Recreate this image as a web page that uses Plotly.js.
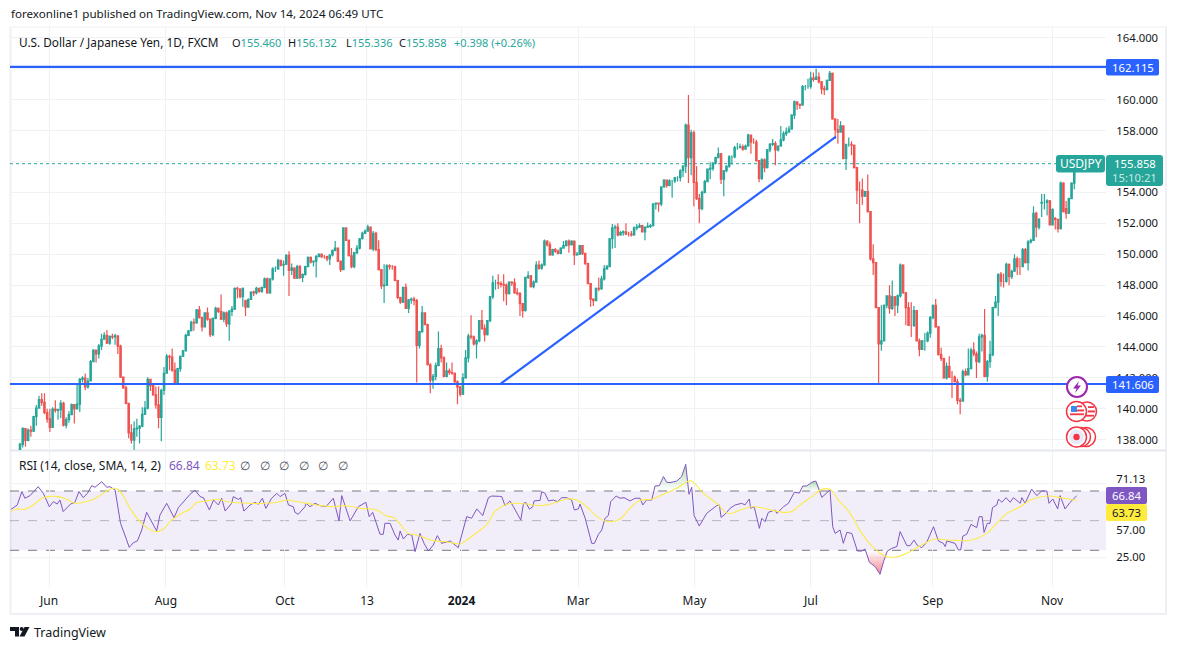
<!DOCTYPE html>
<html><head><meta charset="utf-8">
<script src="https://cdn.plot.ly/plotly-3.0.1.min.js"></script>
<style>html,body{margin:0;padding:0;background:#fff;overflow:hidden}#c{width:1177px;height:650px}</style>
</head><body><div id="c"></div>
<script>
const firstOpen = 137.35;
const closes = [
137.70,138.72,137.95,138.62,138.55,139.50,140.05,140.60,140.42,139.75,
139.35,138.80,139.98,139.90,139.95,140.35,138.95,139.30,139.62,140.28,
140.00,140.30,141.90,141.98,141.42,141.80,143.05,143.80,143.55,144.05,
144.50,144.75,144.25,144.68,144.65,144.72,144.05,142.05,141.35,140.35,
138.45,137.98,138.70,138.75,138.88,139.65,140.05,141.90,141.50,140.90,
140.25,139.45,141.20,142.30,143.40,143.35,142.50,141.65,142.60,143.40,
143.75,144.75,145.05,145.60,145.55,146.40,145.90,145.30,146.20,145.80,
144.80,145.85,146.50,146.30,145.80,146.20,145.50,146.30,146.45,147.80,
147.75,147.25,147.80,146.57,147.07,147.55,147.50,147.80,147.60,147.85,
148.40,147.50,148.40,149.05,149.05,149.60,149.30,149.35,149.92,148.95,
149.10,148.45,149.20,148.50,148.70,149.20,149.80,149.50,149.55,149.85,
150.00,149.85,149.85,149.70,149.95,150.25,150.40,149.55,149.00,151.70,
150.90,149.90,149.20,150.10,150.40,151.00,151.35,151.50,151.75,150.35,
151.35,150.30,149.00,147.95,148.00,149.25,149.20,149.20,148.30,147.20,
146.90,147.85,146.50,147.05,147.10,147.00,144.10,145.00,146.20,145.45,
142.85,141.85,142.10,142.80,143.90,143.30,142.10,142.45,142.35,142.30,
141.75,141.40,140.95,142.00,143.30,144.70,144.65,144.20,144.40,145.70,
145.20,144.80,145.70,147.25,148.15,148.15,148.10,148.05,148.00,147.45,
148.20,148.15,147.50,147.45,146.80,146.35,148.50,148.60,147.90,148.20,
149.30,149.10,149.30,150.85,150.60,149.95,150.30,150.20,150.05,150.40,
150.55,150.85,150.60,150.85,149.95,150.00,150.55,150.05,149.40,148.10,
147.10,147.00,147.80,147.75,148.40,149.05,149.20,151.00,151.70,151.75,
151.25,151.40,151.45,151.30,151.30,151.25,151.70,151.75,151.85,151.45,
151.75,151.80,151.85,153.25,153.30,153.25,154.35,154.80,154.45,154.75,
154.75,154.95,154.95,155.40,155.70,158.35,156.25,157.85,154.65,153.60,
152.95,154.00,154.70,155.50,155.55,155.90,156.25,156.50,154.85,155.40,
155.70,156.30,156.30,156.90,156.90,156.95,156.80,157.00,157.70,157.25,
157.25,156.05,154.90,156.10,155.60,156.75,157.10,157.15,156.75,157.00,
157.40,157.80,157.90,158.10,159.00,159.85,159.70,159.65,160.85,160.85,
160.85,161.40,161.30,161.45,161.15,160.70,160.65,161.25,161.70,158.75,
158.05,157.90,158.30,156.20,157.10,157.10,157.05,155.60,154.15,154.15,
153.75,154.05,152.75,149.70,149.45,146.55,144.20,144.40,146.70,147.30,
146.50,147.25,146.70,147.30,149.30,147.50,146.55,145.40,145.40,146.35,
144.40,143.85,144.40,144.40,144.90,145.90,146.70,145.30,143.50,143.25,
142.00,142.75,142.05,142.05,141.75,140.55,140.50,142.40,142.20,142.60,
143.80,143.55,143.05,144.65,144.75,142.10,143.05,143.50,146.55,146.90,
148.70,148.25,148.25,149.35,148.55,148.90,149.70,149.20,149.20,150.30,
149.45,150.80,150.90,152.65,151.75,152.25,153.35,153.35,153.45,151.90,
152.90,152.25,151.65,154.60,152.75,152.65,153.60,154.60,155.46,155.858];
const highs = [
137.80,138.80,138.75,138.72,138.90,139.55,140.25,140.85,141.00,141.00,
140.00,140.00,140.10,140.55,140.00,140.55,140.45,139.45,139.85,140.35,
140.30,141.55,142.00,142.10,142.28,142.00,143.15,143.85,143.75,144.20,
144.85,144.95,145.10,144.75,144.85,144.85,144.72,144.15,142.05,141.50,
140.35,139.00,139.20,139.35,138.95,140.10,140.50,142.05,141.90,141.55,
141.45,141.45,141.30,142.70,143.55,143.50,143.90,143.00,142.65,143.45,
143.80,144.85,145.10,145.70,145.85,146.45,146.65,145.95,146.25,146.55,
145.85,145.90,146.60,146.55,147.40,146.30,146.30,146.40,146.65,147.85,
147.90,147.80,147.85,147.05,147.15,147.60,147.65,147.90,147.85,147.90,
148.50,148.50,148.45,149.15,149.20,149.70,149.65,149.60,150.00,150.20,
149.40,149.15,149.30,149.30,148.75,149.25,149.85,149.85,149.60,149.95,
150.05,150.05,149.95,149.90,150.00,150.30,150.85,150.40,149.60,151.75,
151.72,150.95,150.40,150.15,150.60,151.05,151.45,151.60,151.90,151.80,
151.50,151.45,150.90,149.05,149.35,149.35,149.35,149.30,149.25,148.35,
147.25,147.90,148.10,147.10,147.20,147.25,147.10,145.05,146.65,146.25,
145.50,142.95,142.25,143.00,145.00,144.15,143.40,143.00,142.60,143.00,
142.35,141.85,141.50,142.30,143.80,144.85,146.05,144.75,144.50,145.75,
146.40,145.45,145.75,147.30,148.60,148.35,148.70,148.25,148.70,148.10,
148.25,148.25,148.45,147.80,147.55,146.85,148.55,148.90,148.65,148.30,
149.55,149.60,149.40,150.95,150.90,150.80,150.35,150.40,150.30,150.45,
150.85,150.90,150.95,150.90,150.85,150.15,150.60,150.60,150.10,149.45,
148.10,147.15,147.85,148.50,148.60,149.30,149.30,151.05,151.95,151.90,
152.00,151.50,151.55,152.00,151.45,151.50,151.80,151.95,152.00,151.90,
151.80,152.05,151.95,153.30,153.35,153.35,154.40,154.85,154.80,154.85,
154.80,155.00,155.05,155.50,155.75,158.45,160.30,158.05,158.00,155.70,
153.90,154.10,154.80,155.55,155.95,155.95,156.30,156.90,156.55,155.45,
155.75,156.40,156.40,157.00,157.20,157.15,157.10,157.10,157.80,157.75,
157.50,157.40,156.10,156.20,156.20,156.80,157.20,157.45,157.30,157.05,
158.30,157.95,158.20,158.30,159.05,159.95,159.90,159.75,160.95,160.95,
161.35,161.80,161.75,162.00,161.75,161.20,160.90,161.30,161.85,161.75,
158.80,158.75,158.60,158.30,157.15,157.55,157.30,157.10,155.65,154.70,
154.90,154.10,155.15,152.80,150.65,149.45,146.55,146.70,146.75,147.35,
148.00,148.30,147.30,147.40,149.40,149.35,147.55,146.90,146.90,146.65,
146.40,144.55,144.45,144.90,145.00,146.00,146.75,147.10,145.35,143.95,
143.30,143.00,143.40,142.45,142.15,141.95,140.70,142.55,142.60,143.90,
143.95,144.30,143.70,144.85,144.85,146.45,143.15,144.40,146.60,147.30,
148.75,148.85,148.75,149.45,149.40,149.00,150.00,149.85,149.75,150.40,
150.40,150.90,151.00,153.10,152.75,152.35,153.90,153.90,153.55,153.50,
152.95,152.40,152.30,154.70,154.65,153.45,153.65,154.65,155.50,156.132];
const lows = [
137.30,137.50,137.55,137.90,138.20,138.50,138.90,140.05,140.20,139.65,
139.10,138.50,138.80,139.75,139.30,139.40,138.85,138.75,139.10,139.60,
139.05,139.95,139.80,141.70,141.20,141.30,141.80,143.05,143.00,143.25,
143.80,144.50,144.20,144.15,144.50,144.15,143.55,142.00,141.30,140.30,
138.10,137.75,137.30,138.20,137.75,138.80,139.60,139.95,141.15,140.85,
140.00,138.75,137.90,140.90,142.30,142.50,142.40,141.60,141.60,142.40,
143.35,143.70,144.70,145.00,145.05,145.50,145.85,145.00,145.30,145.70,
144.65,144.70,145.80,146.20,145.75,145.60,145.30,144.40,146.00,146.40,
147.15,147.15,146.60,146.00,146.55,147.05,147.30,147.40,147.50,147.50,
147.80,147.45,147.45,148.30,148.85,149.00,149.20,148.60,149.30,147.30,
148.65,148.40,148.40,148.40,148.20,148.60,149.15,149.40,149.20,148.50,
149.80,149.75,149.70,149.55,149.30,149.85,150.20,149.50,148.85,149.00,
150.85,149.85,149.10,149.10,150.00,150.30,150.95,151.30,151.45,150.30,
150.20,150.20,148.95,147.75,146.85,147.95,149.00,149.00,148.25,147.10,
146.80,146.85,146.45,146.20,146.80,146.70,141.70,143.90,144.90,145.40,
142.80,141.00,141.30,141.85,142.75,143.00,142.05,142.05,142.20,142.20,
141.55,140.30,140.80,140.90,141.95,143.00,144.50,144.10,143.25,144.30,
145.10,144.35,144.75,145.60,147.10,147.70,147.75,147.85,146.95,146.70,
147.40,147.95,147.45,147.35,146.00,145.90,146.30,148.40,147.85,147.80,
148.15,149.00,149.00,149.25,150.50,149.90,149.90,150.10,150.00,150.00,
150.40,150.50,150.10,150.60,149.30,149.90,149.95,149.95,149.30,148.05,
146.60,146.65,146.95,147.60,147.70,148.30,149.00,149.15,150.35,150.40,
151.15,151.20,151.20,151.25,151.15,151.15,151.20,151.55,151.70,151.40,
150.90,151.70,151.70,151.80,152.90,152.75,153.10,154.30,154.30,154.40,
153.65,154.60,154.70,154.70,155.00,155.25,154.60,155.10,153.10,153.50,
152.00,152.85,153.95,154.70,154.85,155.40,155.80,156.25,154.55,153.75,
155.30,155.60,155.80,156.20,156.75,156.85,156.70,156.75,156.95,156.50,
157.15,156.00,154.65,154.80,155.30,155.55,156.60,157.00,155.75,156.65,
156.95,157.30,157.65,157.85,158.05,158.75,159.35,159.40,159.60,160.60,
160.70,160.70,161.15,161.30,161.05,160.35,160.30,160.65,161.20,158.70,
157.45,157.15,157.85,156.15,155.45,156.95,156.40,155.55,153.25,152.00,
153.20,153.70,152.70,149.60,148.65,146.50,141.65,143.75,144.35,146.50,
146.15,146.40,146.00,146.20,147.20,147.45,145.40,145.35,144.65,145.30,
144.35,143.40,143.80,143.75,144.30,144.60,145.80,145.25,143.45,143.10,
141.95,141.90,142.00,140.70,141.70,140.30,139.65,140.45,142.10,142.15,
142.60,143.40,142.00,142.95,143.70,142.05,141.75,142.65,143.40,146.50,
146.00,147.90,147.85,148.15,148.00,148.40,148.85,148.65,148.65,149.15,
149.40,148.95,150.70,150.85,151.10,151.60,152.40,152.90,152.50,151.85,
151.85,151.60,151.40,151.60,152.70,152.30,152.60,153.55,154.20,155.336];
const gapIndex = [83, 376, 381, 385];
const gapOpen = [147.00, 153.30, 152.30, 152.95];

const dateTickPos = [10.7,53.7,97.5,127.7,162.5,205.4,248.2,291.1,336.0,379.8];
const dateTickText = ["Jun","Aug","Oct","13","<b>2024</b>","Mar","May","Jul","Sep","Nov"];
const priceTicks = [138,140,142,144,146,148,150,152,154,158,160,164];
const hiddenPriceGrid = [156,162];
const rsiTickPos = [78,43.6,25.5];
const rsiTickText = ["71.13","57.00","25.00"];

const rsiX = [-3.3,-1,0.7,1.8,3.7,6.7,8.6,10.8,12.3,13.7,14.7,15.9,18.6,20.2,21.7,23.3,24.8,26.4,27.6,30.1,31.9,33.1,35,35.8,37,38.6,40.2,41.7,43.2,44.8,46.6,50.3,51.5,54,56.7,58.3,60.1,62.6,64.4,66.3,67.5,69.7,71.2,73,74.2,75.5,77.9,78.5,80.4,81.2,82.4,84.7,86.5,87.7,89.2,90.5,92.6,94.5,95.7,97.5,98.8,100.6,101.2,102.4,104.9,105.3,106.7,108.6,110.4,112.6,115.3,117.4,118.4,121.5,124.5,127.3,128.5,129.8,132.5,133.7,134.3,136.2,138,139.2,
139.9,141.1,142.6,144.2,145.4,147.2,148.7,150.3,152.1,153.6,155.2,158.3,160.1,161.3,164.4,166.2,168.1,170.3,172.4,173.6,176.4,177.3,178.5,180.3,181.6,184.3,185.3,186.2,187.5,188.7,189.2,191.4,192,193.2,194.5,196.3,197.8,199.4,201.2,203,204,205.5,206.1,208,210.4,211.4,212.9,214.1,215.3,216.5,217.4,219.4,220.8,222.3,224.5,226.4,228.2,229.2,230.6,232.5,233.7,235.3,236.8,238,239.2,241.7,243.5,245,246.2,247.2,248.1,250,252.7,254.2,256.4,257.4,258,259.5,261.3,263.2,265.6,266.8,268.4,268.9,270.2,272.1,273,274.2,275.4,277.9,278.5,281,282.8,285,286.8,
288.1,289.5,291.4,292.9,295.1,298.1,299.1,300,301.8,303,304.3,306.1,308.2,309.8,311,312.6,314.7,316.5,317.8,319.2,320.8,322.7,323.9,326.4,327.6,329,330.3,331.9,333.7,336.2,338,339.8,340.5,341.1,344.1,345.4,346.2,347,348.4,350,352.1,353,354.1,354.8,356,357,357.9,359.5,360.1,361.3,362.9,364.4,365.6,368.1,368.7,369.9,372.3,374.2,376,377.9,378.7,380.1,381.9,382.8,384.6,386.5,388.9];
const rsiV = [57.6,60.6,69.6,65.1,66.9,72.9,68.4,59.4,62.8,61.2,63.9,56.1,61.2,62.4,69.6,65.5,68.4,73.6,72.5,76.3,72.5,72.9,70.7,60.6,48.2,40.3,32,35.1,36.3,43.7,55.6,43,53.8,61.7,52,58.8,62.8,67.8,70.5,66.2,65.5,57.2,63.9,60.6,65.1,56.5,61.7,66.2,64.3,65.5,56.5,60.6,62.4,61,65.1,58.3,65.1,68.4,66.2,68.4,60.6,59.4,55.6,54.3,59.4,61.7,59.4,61.7,60.1,59.4,65.1,49.8,66.9,49.8,59.4,62.4,52.7,55.6,40.8,40.8,48.2,48.2,40.3,36.9,
43,37.6,40.8,40.3,29.1,41.4,34.7,29.5,33.6,39.9,34.7,36.3,33.6,31.8,52.7,51.6,57.9,53.4,65.5,66.6,66.4,66.2,60.1,63.3,59.4,50.4,61.7,62.2,57.7,59.4,63.3,63.7,69.6,68.4,63.3,63.9,62.8,65.5,65.5,63.9,57.2,57.9,61.2,51.6,34.7,34.7,40.8,43.7,51.6,53.4,62.8,66.6,65.1,65.5,63.3,65.1,65.1,60.6,63.9,63.9,73.4,73.6,79.7,75.9,75.7,76.7,79.7,88,67.8,72.5,53.4,46.4,54.9,56.9,60.1,60.6,52.2,54.3,58.3,60.6,61.7,60.6,64.6,58.3,59.4,44.8,51.6,49.3,55.6,57.2,54.9,59.4,61.7,69.2,68.6,
73.4,73.4,75.9,76.7,65.7,70.7,45.9,41.4,43.7,34.7,42.1,41.4,29.5,29.5,30.9,21.9,19,13.8,22.3,29.5,31.3,32.5,42.6,33.1,33.1,36.9,33.1,31.8,35.4,45.9,36.3,34.7,32.5,36.3,34.7,30.2,30.2,39.6,40.8,47.5,45.3,52.7,52.7,42.1,48.2,48.2,58.8,60.6,64.6,62.4,65.5,62.4,65.5,61.7,65.5,61.7,71.3,66.9,70,70,61.7,64.6,57.9,66.9,57.9,62.4,66.84];
const maX = [-3.3,-1.2,1.8,4.9,8,11,14.1,17.2,20.2,23.3,26.4,29.4,31.9,35,37.4,40.5,44.2,47.2,50.3,52.8,55.8,58.9,62.6,65,68.7,72.4,76.1,79.7,84.7,90.8,95.7,98.1,103.1,109.2,115.3,120.2,125.1,131.3,134.9,137.4,139.9,142.9,146,152.1,157,161.9,164.4,168.1,171.7,174.8,177.8,181.6,186.5,191.4,196.3,201.2,204.9,208.6,212.3,216.5,220.8,224.5,228.2,232.5,236.8,241.7,245.4,247.2,251.5,256.4,260.7,265,269.9,274.8,281,284,287.1,291.4,295.1,298.1,301.2,305.5,309.8,314.1,319,322.7,327.6,332.5,336.2,343.5,350.3,355.8,359.5,363.2,368.1,371.8,377.9,384.1,388.9];
const maV = [56.1,57.9,57.6,60.6,65.1,66.4,66.2,64.4,61.7,62.4,63.9,66.9,70,71.8,68.4,58.3,49.3,44.8,42.6,44.4,50.4,54.3,57.9,62.1,63.3,64.4,62.8,62.1,61.7,61.7,62.8,63.9,62.4,60.6,59.4,60.1,58.3,57.2,53.1,52.2,47.7,41.4,40.3,36.5,35.8,34.3,36.9,41.9,47.1,56.1,60.1,61.7,61.2,60.1,61.7,64.6,63.9,59.4,52.7,49.3,51.1,58.3,63.7,64.4,67.8,71.8,76.3,76.7,68.4,61.7,54.7,57.2,59.4,57.9,55.6,56.1,60.6,66.2,71.1,71.1,63.9,54.9,41.4,31.8,25.7,25.7,29.1,34.2,37.4,36.7,36.9,41.4,48.2,54.9,59.4,63.9,66.6,65.1,63.73];

const supportLevel = 141.606, resistLevel = 162.115, lastPrice = 155.858;
const trendX = [176.7,300.3], trendY = [141.6,157.6];
if (closes.length!==390||highs.length!==390||lows.length!==390) console.error('lengths',closes.length,highs.length,lows.length);
if (rsiX.length!==rsiV.length||maX.length!==maV.length) console.error('rsi lengths',rsiX.length,rsiV.length,maX.length,maV.length);

const W=1177,H=650,UP='#26a69a',DOWN='#ef5350',BLUE='#2962ff',GRID='#f0f1f4',FRAME='#eff0f5',INK='#131722',PURPLE='#7e57c2';
const opens = closes.map((c,i)=>{const g=gapIndex.indexOf(i); return g>=0?gapOpen[g]:(i?closes[i-1]:firstOpen);});
const idx = closes.map((_,i)=>i);
const px=x=>x/W, py=y=>1-y/H;
const spacing=(1077-20)/389;
const xRange=[(10-20)/spacing,(1106-20)/spacing];

const font='"Noto Sans", sans-serif';
const ann=[];
function T(x,y,text,opt={}){ann.push(Object.assign({xref:'paper',yref:'paper',x:px(x),y:py(y),text,showarrow:false,xanchor:'left',yanchor:'middle',font:{family:font,size:12,color:INK},borderpad:0},opt));}
const sh=[];
function L(x0,y0,x1,y1,c,w){sh.push({type:'line',xref:'paper',yref:'paper',x0:px(x0),x1:px(x1),y0:py(y0),y1:py(y1),line:{color:c,width:w||1},layer:'below'});}
function rr(x0,y0,x1,y1,r,c){const X=px,Y=py;sh.push({type:'path',xref:'paper',yref:'paper',fillcolor:c,line:{width:0},layer:'above',
 path:`M${X(x0+r)},${Y(y0)}L${X(x1-r)},${Y(y0)}Q${X(x1)},${Y(y0)} ${X(x1)},${Y(y0+r)}L${X(x1)},${Y(y1-r)}Q${X(x1)},${Y(y1)} ${X(x1-r)},${Y(y1)}L${X(x0+r)},${Y(y1)}Q${X(x0)},${Y(y1)} ${X(x0)},${Y(y1-r)}L${X(x0)},${Y(y0+r)}Q${X(x0)},${Y(y0)} ${X(x0+r)},${Y(y0)}Z`});}
function circ(cx,cy,r,stroke,fill,w){sh.push({type:'circle',xref:'paper',yref:'paper',x0:px(cx-r),x1:px(cx+r),y0:py(cy+r),y1:py(cy-r),fillcolor:fill,line:{color:stroke,width:w==null?1.5:w},layer:'above'});}
function poly(pts,fill){sh.push({type:'path',xref:'paper',yref:'paper',fillcolor:fill,line:{width:0},layer:'above',path:'M'+pts.map(p=>px(p[0])+','+py(p[1])).join('L')+'Z'});}
const box=(x0,y0,x1,y1,c)=>poly([[x0,y0],[x1,y0],[x1,y1],[x0,y1]],c);

// frame
L(10.5,27,10.5,614,FRAME,2);L(10,27,1167,27,FRAME,1);L(1166,27,1166,614,FRAME,2);L(10,614,1167,614,FRAME,2);L(10,450.5,1167,450.5,'#e6e8f0',2);

// grid under the hidden price labels
hiddenPriceGrid.forEach(v=>sh.push({type:'line',xref:'paper',yref:'y',x0:px(10),x1:px(1106),y0:v,y1:v,line:{color:GRID,width:1},layer:'below'}));

// levels
[resistLevel,supportLevel].forEach(v=>sh.push({type:'line',xref:'paper',yref:'y',x0:px(10),x1:px(1106),y0:v,y1:v,line:{color:BLUE,width:2.2},layer:'above'}));
sh.push({type:'line',xref:'paper',yref:'y',x0:px(10),x1:px(1060),y0:lastPrice,y1:lastPrice,line:{color:UP,width:1,dash:'dot'},layer:'below'});
sh.push({type:'line',xref:'x',yref:'y',x0:trendX[0],x1:trendX[1],y0:trendY[0],y1:trendY[1],line:{color:BLUE,width:2.2},layer:'above'});

// RSI band
sh.push({type:'rect',xref:'paper',yref:'y2',x0:px(10),x1:px(1106),y0:30,y1:70,fillcolor:'rgba(126,87,194,0.1)',line:{width:0},layer:'below'});
[[70,1],[50,0.5],[30,1]].forEach(a=>sh.push({type:'line',xref:'paper',yref:'y2',x0:px(10),x1:px(1106),y0:a[0],y1:a[0],opacity:a[1],line:{color:'#787b86',width:1,dash:'dash'},layer:'below'}));
[75,25].forEach(v=>sh.push({type:'line',xref:'paper',yref:'y2',x0:px(10),x1:px(1106),y0:v,y1:v,line:{color:GRID,width:1},layer:'below'}));

// label boxes
const num=(c)=>({xanchor:'center',font:{family:font,size:11.3,color:c}});
rr(1106,59,1159,75.5,2,BLUE);T(1132.5,67.5,'162.115',num('#fff'));
rr(1106,376,1159,393,2,BLUE);T(1132.5,384.5,'141.606',num('#fff'));
rr(1056,155,1105,172.5,3,UP);T(1080.5,163.5,'USDJPY',{xanchor:'center',font:{family:font,size:12,color:'#fff'}});
rr(1106,155,1163,186,3,UP);T(1134.5,163.5,'155.858',num('#fff'));
T(1134.5,177.5,'15:10:21',num('rgba(255,255,255,0.75)'));
rr(1106,487,1147,504,2,PURPLE);T(1126.5,495.5,'66.84',num('#fff'));
rr(1106,504,1147,521,2,'#ffeb3b');T(1126.5,512.5,'63.73',num(INK));

// header
T(10,14,'forexonline1 published on TradingView.com, Nov 14, 2024 06:49 UTC',{font:{family:font,size:11.6,color:INK}});
T(17.5,42,'U.S. Dollar / Japanese Yen, 1D, FXCM',{font:{family:font,size:11.8,color:INK}});
const ohlcLabel=['O','H','L','C'], ohlcValue=['155.460','156.132','155.336','155.858'], ohlcPos=[231,287,345,398];
ohlcLabel.forEach((l,i)=>T(ohlcPos[i],42,`${l}<span style="color:${UP}">${ohlcValue[i]}</span>`,{font:{family:font,size:11,color:INK}}));
T(453,42,'+0.398 (+0.26%)',{font:{family:font,size:11,color:UP}});
T(18,465,'RSI (14, close, SMA, 14, 2)');
T(168,465,'66.84',{font:{family:font,size:12,color:PURPLE}});
T(204,465,'63.73',{font:{family:font,size:12,color:'#ffeb3b'}});
[245,265,284,304,323,343].forEach(x=>T(x,465,'∅',{xanchor:'center',font:{family:font,size:12,color:'#4a4e5a'}}));

// icons
circ(1077,387,10,'#9c27b0','#ffffff',2);
poly([[1079,381],[1073,388.5],[1076.5,388.5],[1075,393],[1081,385.5],[1077.5,385.5]],'#9c27b0');
circ(1087,411.5,9.5,'#f23645','#ffffff',1.5);
box(1088,406.2,1094,408,'#f23645');box(1088,410.5,1095,412.4,'#f23645');box(1086,414.8,1094,416.6,'#f23645');
circ(1076.5,411.5,10,'#f23645','#ffffff',1.5);
box(1077,405.4,1082,407.2,'#f23645');box(1077,409.5,1084,411.4,'#f23645');box(1070,413.4,1084,415.2,'#f23645');
box(1071,406,1077,412,'#3d8bf0');
circ(1086,437,9.5,'#f23645','#ffffff',1.5);circ(1081,437,9.5,'#f23645','#ffffff',1.5);
circ(1076.5,437,10,'#f23645','#ffffff',1.5);circ(1076.5,437,7.5,'#e8eaf6','#e8eaf6',0);circ(1076.5,437,3.2,'#f23645','#f23645',0);

// logo
poly([[10,627],[19,627],[19,636.5],[15,636.5],[15,631],[10,631]],INK);
circ(21.7,629,2,INK,INK,0);
poly([[24.5,627],[29.5,627],[24.5,636.5],[19.5,636.5]],INK);
T(33,632,'TradingView',{font:{family:font,size:12.5,color:INK}});

// RSI fills
function region(a,b,level,over){const xs=[],ys=[];rsiX.forEach((x,i)=>{if(x>=a&&x<=b){xs.push(x);ys.push(over?Math.max(rsiV[i],level):Math.min(rsiV[i],level));}});
 return {x:[xs[0],...xs,xs[xs.length-1]],y:[level,...ys,level]};}
const hi1=region(232.5,247.2,70,true),hi2=region(288,298.1,70,true),lo1=region(308,320,30,false);
const greenGrad={type:'vertical',colorscale:[[0,'rgba(76,175,80,0)'],[1,'rgba(76,175,80,0.45)']]};
const redGrad={type:'vertical',colorscale:[[0,'rgba(242,54,69,0.6)'],[1,'rgba(242,54,69,0)']]};

const data=[
 {type:'candlestick',x:idx,open:opens,high:highs,low:lows,close:closes,xaxis:'x',yaxis:'y',whiskerwidth:0,
  increasing:{line:{color:UP,width:1.2},fillcolor:UP},decreasing:{line:{color:DOWN,width:1.2},fillcolor:DOWN},hoverinfo:'skip',showlegend:false},
 {type:'scatter',mode:'lines',x:hi1.x,y:hi1.y,xaxis:'x2',yaxis:'y2',fill:'toself',fillgradient:greenGrad,line:{width:0},hoverinfo:'skip',showlegend:false},
 {type:'scatter',mode:'lines',x:hi2.x,y:hi2.y,xaxis:'x2',yaxis:'y2',fill:'toself',fillgradient:greenGrad,line:{width:0},hoverinfo:'skip',showlegend:false},
 {type:'scatter',mode:'lines',x:lo1.x,y:lo1.y,xaxis:'x2',yaxis:'y2',fill:'toself',fillgradient:redGrad,line:{width:0},hoverinfo:'skip',showlegend:false},
 {type:'scatter',mode:'lines',x:rsiX,y:rsiV,xaxis:'x2',yaxis:'y2',line:{color:PURPLE,width:1},hoverinfo:'skip',showlegend:false},
 {type:'scatter',mode:'lines',x:maX,y:maV,xaxis:'x2',yaxis:'y2',line:{color:'#fdeb4a',width:1.1,shape:'spline'},hoverinfo:'skip',showlegend:false}
];
const ax={showline:false,zeroline:false,gridcolor:GRID,gridwidth:1};
const numFont={family:font,size:11.3,color:INK};
const layout={
 width:W,height:H,margin:{l:0,r:0,t:0,b:0,pad:0},paper_bgcolor:'#fff',plot_bgcolor:'rgba(0,0,0,0)',showlegend:false,boxgap:0.28,
 font:{family:font,size:12,color:INK},dragmode:false,
 xaxis:Object.assign({},ax,{type:'linear',domain:[px(10),px(1106)],range:xRange,anchor:'y',tickvals:dateTickPos,ticktext:dateTickPos.map(()=>''),ticks:'',rangeslider:{visible:false},showgrid:true}),
 yaxis:Object.assign({},ax,{domain:[py(450),py(27)],range:[152-(450-223.3)/15.46,152-(27-223.3)/15.46],side:'right',anchor:'x',tickvals:priceTicks,tickformat:'.3f',ticks:'outside',ticklen:7,tickcolor:'rgba(0,0,0,0)',tickfont:numFont,showgrid:true}),
 xaxis2:Object.assign({},ax,{type:'linear',domain:[px(10),px(1106)],range:xRange,anchor:'y2',tickvals:dateTickPos,ticktext:dateTickText,ticks:'outside',ticklen:3,tickcolor:'rgba(0,0,0,0)',tickfont:{family:font,size:12,color:INK},tickangle:0,showgrid:true}),
 yaxis2:Object.assign({},ax,{domain:[py(587),py(451)],range:[70-(587-491)/1.4825,70-(451-491)/1.4825],side:'right',anchor:'x2',tickvals:rsiTickPos,ticktext:rsiTickText,ticks:'outside',ticklen:7,tickcolor:'rgba(0,0,0,0)',tickfont:numFont,showgrid:false}),
 shapes:sh,annotations:ann
};
Plotly.newPlot('c',data,layout,{displayModeBar:false,staticPlot:true});
</script></body></html>
